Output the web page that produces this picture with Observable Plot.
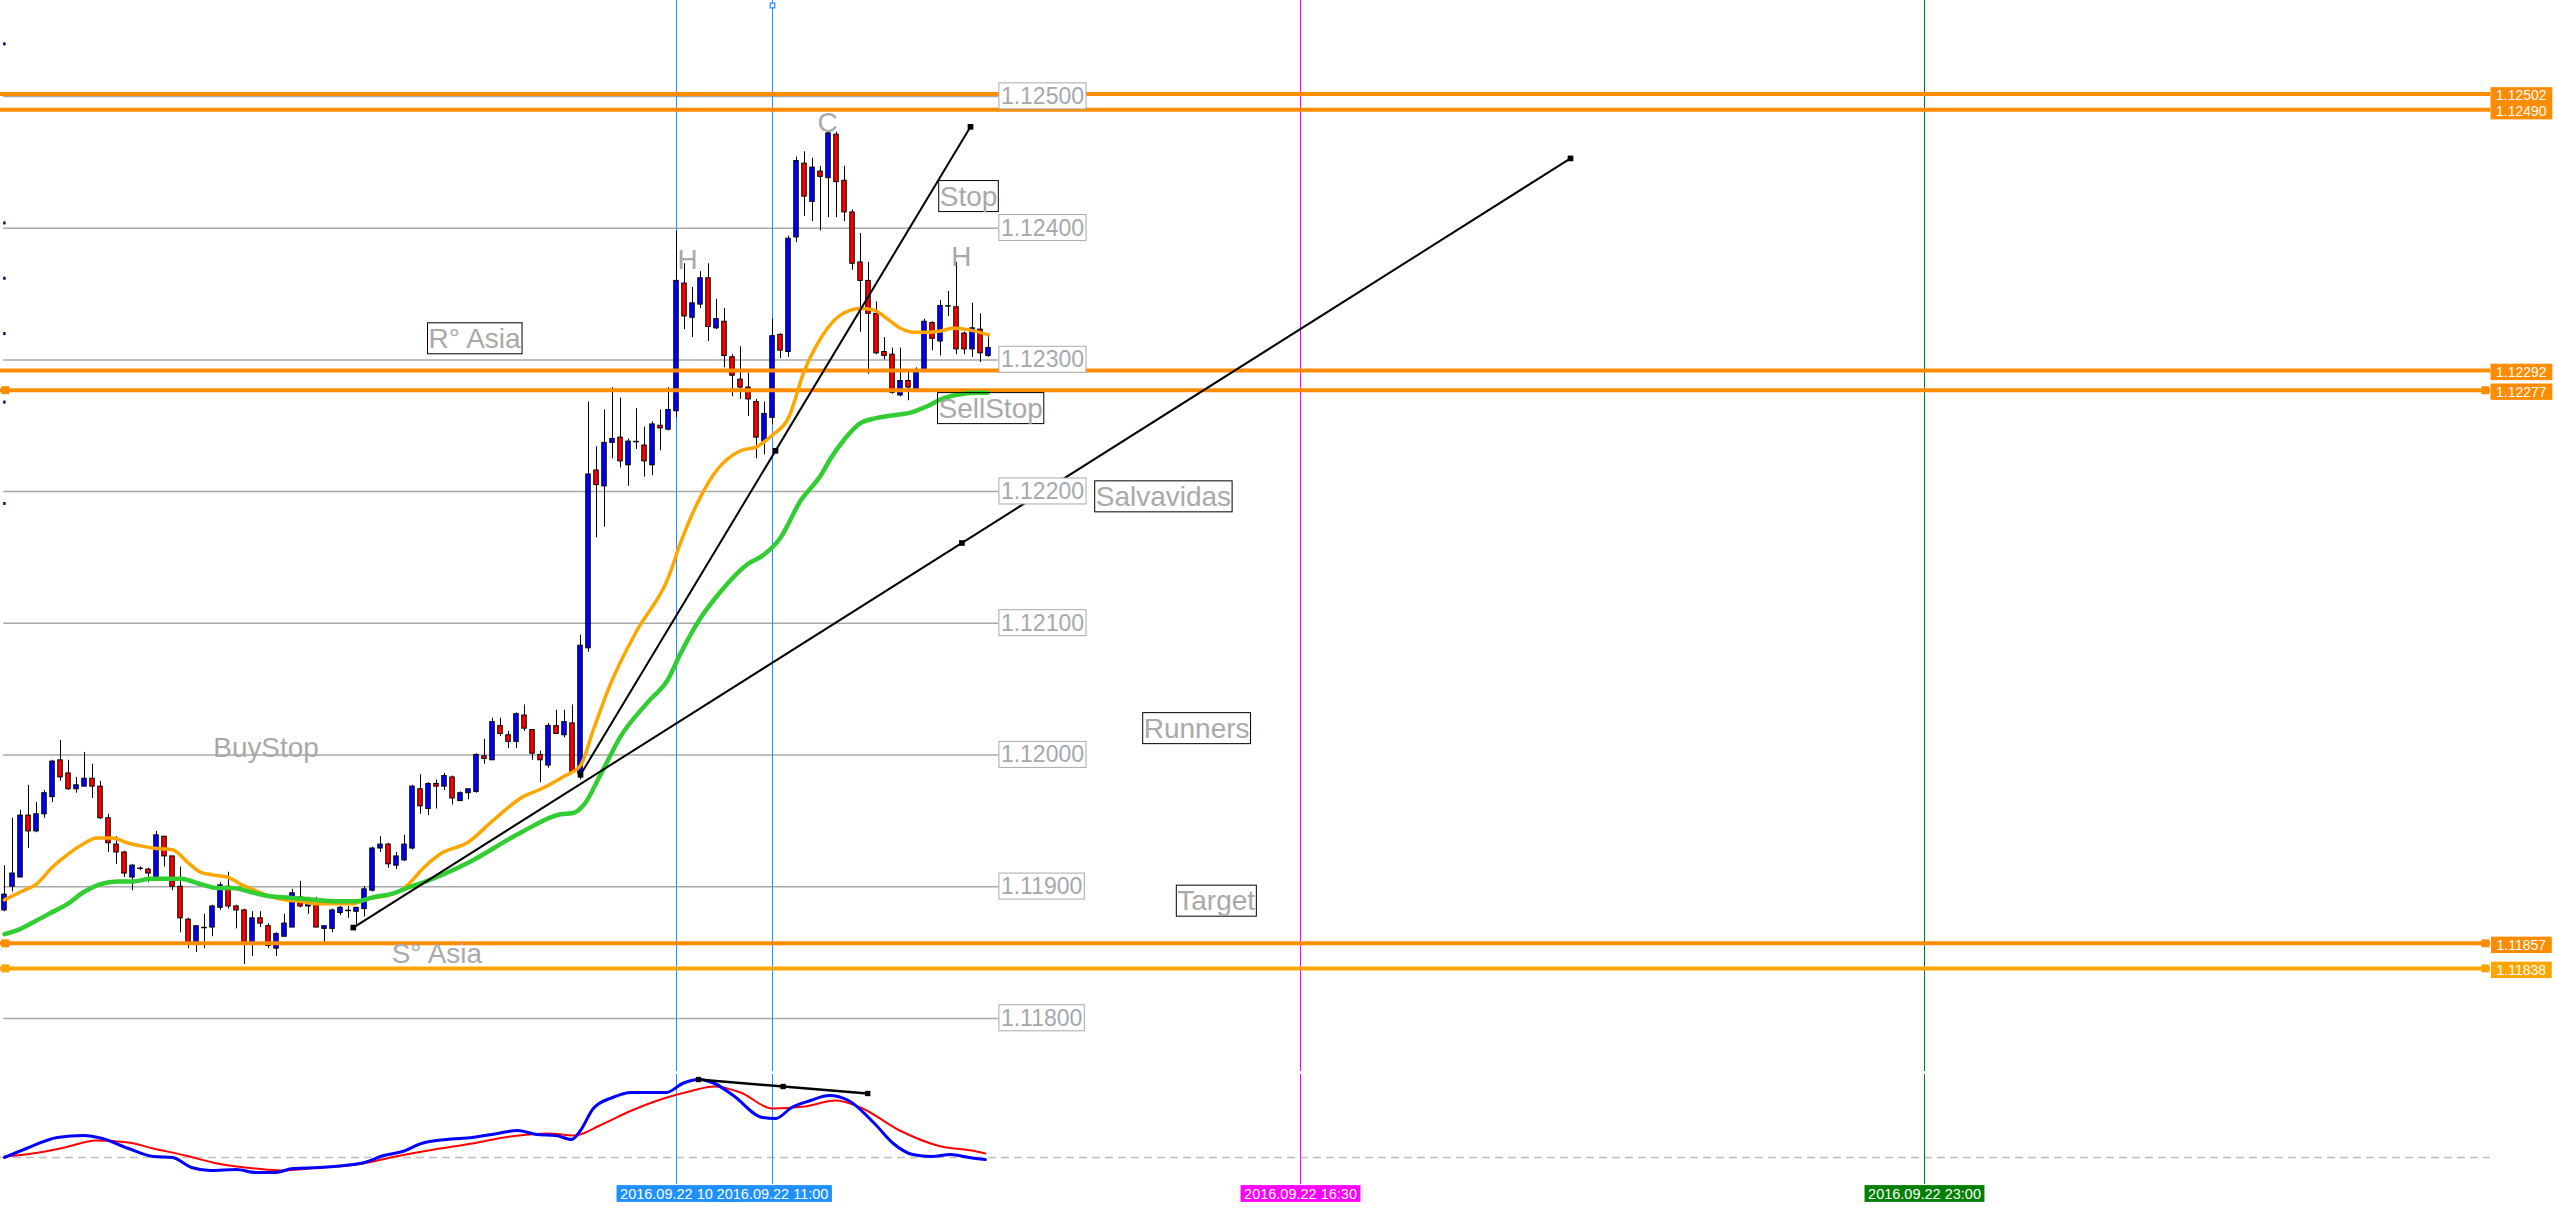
<!DOCTYPE html>
<html><head><meta charset="utf-8">
<script src="https://cdn.jsdelivr.net/npm/d3@7"></script>
<script src="https://cdn.jsdelivr.net/npm/@observablehq/plot@0.6"></script>
<style>
html,body{margin:0;padding:0;background:#fff;overflow:hidden;width:2556px;height:1212px;}
#main{position:absolute;left:0;top:0;}
#sub{position:absolute;left:0;top:1074px;}
</style></head><body>
<div id="main"></div><div id="sub"></div>
<script>
// ---------- DATA (EURUSD M5, 2016.09.22 from 03:00; x = bar index) ----------
const open = [1.11882,1.11900,1.11907,1.11954,1.11942,1.11955,1.11968,1.11996,1.11986,1.11974,
1.11976,1.11982,1.11976,1.11952,1.11932,1.11926,1.11907,1.11914,1.11913,1.11907,
1.11938,1.11923,1.11900,1.11875,1.11857,1.11869,1.11869,1.11884,1.11900,1.11885,
1.11882,1.11857,1.11876,1.11870,1.11853,1.11862,1.11869,1.11892,1.11885,1.11889,
1.11868,1.11868,1.11880,1.11882,1.11881,1.11883,1.11897,1.11929,1.11932,1.11916,
1.11920,1.11929,1.11974,1.11959,1.11978,1.11976,1.11983,1.11965,1.11971,1.11972,
1.11999,1.11996,1.12022,1.12015,1.12010,1.12030,1.12019,1.12000,1.11992,1.12022,
1.12015,1.12024,1.11986,1.12081,1.12216,1.12204,1.12237,1.12241,1.12220,1.12238,
1.12235,1.12220,1.12250,1.12247,1.12261,1.12358,1.12332,1.12342,1.12362,1.12324,
1.12329,1.12302,1.12285,1.12279,1.12268,1.12238,1.12256,1.12319,1.12306,1.12393,
1.12449,1.12420,1.12443,1.12438,1.12471,1.12436,1.12412,1.12374,1.12360,1.12335,
1.12306,1.12304,1.12273,1.12284,1.12277,1.12292,1.12328,1.12314,1.12341,1.12340,
1.12320,1.12308,1.12323,1.12303];
const high = [1.11916,1.11952,1.11958,1.11977,1.11964,1.11973,1.11996,1.12011,1.11996,1.11983,
1.12002,1.11993,1.11980,1.11955,1.11938,1.11927,1.11917,1.11915,1.11914,1.11942,
1.11938,1.11923,1.11915,1.11876,1.11870,1.11879,1.11886,1.11903,1.11911,1.11886,
1.11883,1.11881,1.11881,1.11872,1.11865,1.11879,1.11898,1.11904,1.11892,1.11892,
1.11870,1.11883,1.11885,1.11885,1.11884,1.11900,1.11930,1.11938,1.11933,1.11926,
1.11939,1.11977,1.11985,1.11979,1.11981,1.11986,1.11984,1.11972,1.11974,1.12001,
1.12012,1.12028,1.12028,1.12018,1.12032,1.12038,1.12019,1.12003,1.12024,1.12034,
1.12034,1.12038,1.12091,1.12268,1.12234,1.12262,1.12279,1.12271,1.12240,1.12263,
1.12249,1.12253,1.12262,1.12279,1.12398,1.12373,1.12355,1.12367,1.12373,1.12346,
1.12339,1.12304,1.12310,1.12290,1.12270,1.12268,1.12331,1.12320,1.12394,1.12454,
1.12458,1.12453,1.12447,1.12474,1.12473,1.12447,1.12414,1.12396,1.12374,1.12344,
1.12317,1.12309,1.12309,1.12292,1.12294,1.12331,1.12329,1.12345,1.12352,1.12374,
1.12321,1.12343,1.12335,1.12318];
const low = [1.11881,1.11896,1.11907,1.11929,1.11941,1.11952,1.11964,1.11980,1.11973,1.11971,
1.11976,1.11967,1.11951,1.11926,1.11917,1.11907,1.11897,1.11912,1.11903,1.11907,
1.11915,1.11897,1.11865,1.11853,1.11850,1.11853,1.11862,1.11882,1.11883,1.11868,
1.11841,1.11847,1.11869,1.11853,1.11847,1.11862,1.11869,1.11884,1.11879,1.11869,
1.11858,1.11865,1.11878,1.11876,1.11871,1.11877,1.11896,1.11926,1.11914,1.11913,
1.11919,1.11928,1.11955,1.11954,1.11959,1.11973,1.11962,1.11965,1.11966,1.11971,
1.11993,1.11996,1.12014,1.12005,1.12005,1.12018,1.11996,1.11979,1.11990,1.12016,
1.12013,1.11986,1.11981,1.12078,1.12165,1.12173,1.12225,1.12218,1.12204,1.12232,
1.12211,1.12212,1.12231,1.12246,1.12256,1.12323,1.12317,1.12339,1.12314,1.12323,
1.12294,1.12272,1.12270,1.12257,1.12225,1.12228,1.12251,1.12301,1.12302,1.12389,
1.12409,1.12405,1.12398,1.12408,1.12408,1.12405,1.12368,1.12321,1.12289,1.12304,
1.12300,1.12274,1.12272,1.12269,1.12276,1.12291,1.12307,1.12303,1.12333,1.12304,
1.12304,1.12302,1.12298,1.12302];
const close = [1.11894,1.11910,1.11954,1.11942,1.11955,1.11971,1.11995,1.11983,1.11974,1.11977,
1.11982,1.11976,1.11952,1.11933,1.11926,1.11910,1.11916,1.11914,1.11910,1.11939,
1.11923,1.11900,1.11876,1.11858,1.11870,1.11869,1.11885,1.11901,1.11885,1.11882,
1.11857,1.11876,1.11872,1.11855,1.11864,1.11872,1.11895,1.11885,1.11891,1.11869,
1.11870,1.11882,1.11884,1.11882,1.11884,1.11898,1.11929,1.11932,1.11917,1.11923,
1.11932,1.11976,1.11961,1.11978,1.11976,1.11984,1.11967,1.11971,1.11974,1.12000,
1.11997,1.12025,1.12016,1.12010,1.12031,1.12020,1.12001,1.11996,1.12022,1.12016,
1.12025,1.11987,1.12083,1.12213,1.12205,1.12237,1.12240,1.12223,1.12238,1.12238,
1.12223,1.12251,1.12248,1.12262,1.12360,1.12333,1.12343,1.12362,1.12325,1.12331,
1.12303,1.12288,1.12279,1.12270,1.12241,1.12259,1.12318,1.12307,1.12392,1.12451,
1.12424,1.12446,1.12439,1.12472,1.12435,1.12412,1.12373,1.12360,1.12335,1.12305,
1.12303,1.12275,1.12284,1.12279,1.12292,1.12329,1.12316,1.12341,1.12341,1.12308,
1.12308,1.12324,1.12305,1.12309];

// moving averages (bar index, price)
const orangeIdx = [0,2,4,6,8,10,11.5,13.5,15.5,17,19,21,23,24.5,26,28,29.5,31,33,35,37,39,41,43.5,45.5,47.5,49.5,51,52,54.5,58,61,65,67,70,72,73.6,75.75,79,83,84.5,87,89,92,94,96,98,100,101.5,103,104.5,107,108.6,110.4,112,113.6,115.4,117,118.6,120.4,123];
const orangeVal = [1.11890,1.11896,1.11902,1.11915,1.11925,1.11933,1.11937,1.11937,1.11933,1.11931,1.11929,1.11928,1.11918,1.11911,1.11909,1.11907,1.11902,1.11898,1.11893,1.11890,1.11889,1.11887,1.11887,1.11887,1.11891,1.11893,1.11897,1.11905,1.11912,1.11925,1.11934,1.11950,1.11969,1.11974,1.11984,1.11992,1.12019,1.12054,1.12094,1.12135,1.12161,1.12196,1.12216,1.12231,1.12234,1.12243,1.12256,1.12292,1.12311,1.12325,1.12334,1.12339,1.12338,1.12331,1.12324,1.12321,1.12321,1.12322,1.12324,1.12323,1.12319];
const greenIdx = [0,2,3.6,5.75,7.9,9.9,12,14.1,16.1,18.25,20.4,22,24.5,26.6,28.6,30.75,32.9,34.9,37,39.1,41.1,44.1,46.1,48.6,50.75,52.2,57.9,64.5,69.5,71.1,72.4,74.5,77,80.4,82.9,84.5,87,89.5,92.9,94.9,97,99.5,102,103.25,104.9,107,109.1,111.1,113.25,115.4,117.4,119.5,121.6,122.9];
const greenVal = [1.11864,1.11868,1.11873,1.11880,1.11887,1.11896,1.11902,1.11904,1.11904,1.11906,1.11906,1.11906,1.11902,1.11899,1.11899,1.11896,1.11893,1.11892,1.11891,1.11890,1.11889,1.11889,1.11892,1.11895,1.11900,1.11903,1.11918,1.11941,1.11955,1.11956,1.11962,1.11985,1.12014,1.12040,1.12057,1.12077,1.12104,1.12124,1.12145,1.12152,1.12165,1.12193,1.12212,1.12225,1.12239,1.12252,1.12256,1.12258,1.12260,1.12265,1.12271,1.12274,1.12275,1.12275];

// MACD sub-window
const macdIdx = [0,2.75,6.6,9.9,12.25,15.5,18.6,21,23.4,25.75,29,31.4,33.75,36.1,39.4,42.5,45,47.4,49.75,52.1,55.25,58.5,61.6,64.1,66.5,68.9,70.9,72,73.6,76,78.4,82.75,84.75,86.75,88.75,91.1,94.75,96.4,98.4,100.75,103.1,105.5,108.75,111.1,113.5,115.9,118.25,120.6,122.6];
const macdVal = [0,0.00009,0.00020,0.00022,0.00019,0.00009,0.00001,0,-0.00010,-0.00013,-0.00012,-0.00015,-0.00015,-0.00011,-0.00010,-0.00008,-0.00005,0.00002,0.00006,0.00014,0.00018,0.00020,0.00024,0.00027,0.00023,0.00022,0.00018,0.00027,0.00049,0.00060,0.00065,0.00065,0.00074,0.00078,0.00074,0.00062,0.00040,0.00039,0.00050,0.00057,0.00062,0.00057,0.00034,0.00014,0.00003,0.00001,0.00003,0,-0.00002];
const signalIdx = [0,3.5,7.5,11.5,15.5,18.6,22.6,26.6,31.4,34.6,39.4,44.1,48.9,53.75,58.5,63.25,68,71.25,74.4,78.4,82.4,85.6,88.75,92,96,100,103.9,107,111.9,116.6,121.5,122.6];
const signalVal = [0.00001,0.00004,0.00010,0.00017,0.00015,0.00009,0.00002,-0.00006,-0.00011,-0.00013,-0.00010,-0.00007,0.00001,0.00008,0.00014,0.00021,0.00024,0.00022,0.00032,0.00047,0.00059,0.00066,0.00071,0.00065,0.00049,0.00051,0.00057,0.00050,0.00027,0.00012,0.00006,0.00004];

// price grid and tick labels
const gridLevels = [1.125,1.124,1.123,1.122,1.121,1.120,1.119,1.118];
const gridLabels = ["1.12500","1.12400","1.12300","1.12200","1.12100","1.12000","1.11900","1.11800"];

// horizontal level lines
const levelPrices = [1.12502,1.12490,1.12292,1.12277,1.11857,1.11838];
const levelColors = ["#FF8C00","#FF8C00","#FF8C00","#FF8C00","#FF8C00","#FFA500"];
const levelMarked = [false,false,false,true,true,true];

// small price markers at the left edge
const edgeMarks = [1.12540,1.12404,1.12362,1.12320,1.12268,1.12191];

// vertical time lines (bar index from 03:00)
const vLineIdx = [84,96,162,240];
const vLineColors = ["#1E90FF","#1E90FF","#FF00FF","#008000"];
const vLineLabels = ["2016.09.22 10:00","2016.09.22 11:00","2016.09.22 16:30","2016.09.22 23:00"];

// trend lines (bar index, price)
const trendI1 = [43.6, 72];
const trendP1 = [1.11869, 1.11985];
const trendI2 = [195.75, 120.75];
const trendP2 = [1.12453, 1.12477];
const macdTrendI = [86.75, 107.9];
const macdTrendV = [0.00078, 0.00064];

// text objects
const boxedText = ["R° Asia","Stop","SellStop","Salvavidas","Runners","Target"];
const boxedIdx = [53.0,116.9,116.75,136.4,142.4,146.6];
const boxedPrice = [1.12316,1.12424,1.12263,1.12196,1.12020,1.11889];
const plainText = ["BuyStop","S° Asia","H","C","H"];
const plainIdx = [26.1,48.4,85.4,102.9,119.6];
const plainPrice = [1.12005,1.11849,1.12376,1.12480,1.12378];
const plainAnchor = ["start","start","middle","middle","middle"];

// ---------- BUILD ----------
const FONT = "'Liberation Sans', Arial, Helvetica, sans-serif";
const W = 2556, H1 = 1071, H2 = 138;
const xDomain = [-0.5, 319];
const yDomain = [1.117597, 1.125729];
const gridEnd = 124.25, gridLabelX = 124.55, levelEnd = 310.75, levelLabelX = 314.6;

const candles = open.map((o, i) => ({i, open: o, high: high[i], low: low[i], close: close[i]}));
const bodies = candles.filter(d => d.open !== d.close);
const dojis = candles.filter(d => d.open === d.close);
const levels = levelPrices.map((p, k) => ({price: p, color: levelColors[k], marked: levelMarked[k]}));
const vlines = vLineIdx.map((x, k) => ({i: x, color: vLineColors[k], label: vLineLabels[k]}));
const orange = orangeIdx.map((x, k) => ({i: x, v: orangeVal[k]}));
const green = greenIdx.map((x, k) => ({i: x, v: greenVal[k]}));
const macd = macdIdx.map((x, k) => ({i: x, v: macdVal[k]}));
const signal = signalIdx.map((x, k) => ({i: x, v: signalVal[k]}));
const trend = trendI1.map((x, k) => ({i1: x, p1: trendP1[k], i2: trendI2[k], p2: trendP2[k]}));
const trendPts = trend.flatMap(t => [{i: t.i1, p: t.p1}, {i: (t.i1 + t.i2) / 2, p: (t.p1 + t.p2) / 2}, {i: t.i2, p: t.p2}]);
const mTrend = [{i1: macdTrendI[0], v1: macdTrendV[0], i2: macdTrendI[1], v2: macdTrendV[1]}];
const mTrendPts = [{i: macdTrendI[0], v: macdTrendV[0]}, {i: (macdTrendI[0] + macdTrendI[1]) / 2, v: (macdTrendV[0] + macdTrendV[1]) / 2}, {i: macdTrendI[1], v: macdTrendV[1]}];
const boxed = boxedText.map((t, k) => ({t, i: boxedIdx[k], p: boxedPrice[k]}));
const plainAll = plainText.map((t, k) => ({t, i: plainIdx[k], p: plainPrice[k], a: plainAnchor[k]}));
const plainStart = plainAll.filter(d => d.a === "start");
const plainMid = plainAll.filter(d => d.a === "middle");

const GRAY = "#A9A9A9";

const mainPlot = Plot.plot({
  width: W, height: H1,
  marginTop: 0, marginBottom: 0, marginLeft: 0, marginRight: 0,
  x: {domain: xDomain, axis: null},
  y: {domain: yDomain, axis: null},
  color: {type: "identity"},
  style: {background: "white", overflow: "visible"},
  marks: [
    Plot.ruleY(gridLevels, {y: d => d, x1: -0.1, x2: gridEnd, stroke: "#A8A8A8", strokeWidth: 1.5}),
    Plot.ruleX(vlines, {x: "i", stroke: "color", strokeWidth: 1}),
    Plot.dot(vlines.filter(d => d.i === 96), {x: "i", frameAnchor: "top", dy: 5, symbol: "square", r: 2.6, fill: "white", stroke: "color", strokeWidth: 1.2}),
    Plot.ruleX(candles, {x: "i", y1: "low", y2: "high", stroke: "black", strokeWidth: 1}),
    Plot.rect(bodies, {x1: d => d.i - 0.28, x2: d => d.i + 0.28, y1: "open", y2: "close",
      fill: d => d.close > d.open ? "#0000FF" : "#FF0000", stroke: "black", strokeWidth: 1}),
    Plot.ruleY(dojis, {y: "open", x1: d => d.i - 0.35, x2: d => d.i + 0.35, stroke: "black", strokeWidth: 1.5}),
    Plot.ruleY(levels, {y: "price", x1: -0.5, x2: levelEnd, stroke: "color", strokeWidth: 4}),
    Plot.dot(levels.filter(d => d.marked), {x: 0.1, y: "price", symbol: "square", r: 4.5, fill: "color", stroke: null}),
    Plot.dot(levels.filter(d => d.marked), {x: 310.1, y: "price", symbol: "square", r: 4.5, fill: "color", stroke: null}),
    Plot.text(levels, {x: levelLabelX, y: "price", dy: 2, text: d => d.price.toFixed(5), fill: "white", fontSize: 14, fontFamily: FONT}),
    Plot.ruleY(edgeMarks, {y: d => d, x1: -0.1, x2: 0.2, stroke: "#000080", strokeWidth: 3}),
    Plot.line(orange, {x: "i", y: "v", stroke: "#FFA500", strokeWidth: 3.5, curve: "monotone-x"}),
    Plot.line(green, {x: "i", y: "v", stroke: "#32CD32", strokeWidth: 4.5, curve: "monotone-x"}),
    Plot.link(trend, {x1: "i1", y1: "p1", x2: "i2", y2: "p2", stroke: "black", strokeWidth: 2}),
    Plot.dot(trendPts, {x: "i", y: "p", symbol: "square", r: 3.2, fill: "black", stroke: null}),
    Plot.text(gridLevels, {x: gridLabelX, y: d => d, text: (d, k) => gridLabels[k], textAnchor: "start", fontSize: 23, fontFamily: FONT, fill: "#A4A8AE"}),
    Plot.text(boxed, {x: "i", y: "p", text: "t", textAnchor: "start", fontSize: 28, fontFamily: FONT, fill: GRAY}),
    Plot.text(plainStart, {x: "i", y: "p", text: "t", textAnchor: "start", fontSize: 27.9, fontFamily: FONT, fill: GRAY}),
    Plot.text(plainMid, {x: "i", y: "p", text: "t", textAnchor: "middle", fontSize: 27.9, fontFamily: FONT, fill: GRAY})
  ]
});

const subPlot = Plot.plot({
  width: W, height: H2,
  marginTop: 0, marginBottom: 0, marginLeft: 0, marginRight: 0,
  x: {domain: xDomain, axis: null},
  y: {domain: [-0.00055, 0.00083], axis: null},
  color: {type: "identity"},
  style: {background: "white", overflow: "visible"},
  marks: [
    Plot.ruleY([0], {x1: -0.5, x2: levelEnd, stroke: "#C0C0C0", strokeWidth: 1.5, strokeDasharray: "8,5"}),
    Plot.ruleX(vlines, {x: "i", stroke: "color", strokeWidth: 1, insetBottom: 28}),
    Plot.line(signal, {x: "i", y: "v", stroke: "#FF0000", strokeWidth: 2, curve: "monotone-x"}),
    Plot.line(macd, {x: "i", y: "v", stroke: "#0000FF", strokeWidth: 3, curve: "monotone-x"}),
    Plot.link(mTrend, {x1: "i1", y1: "v1", x2: "i2", y2: "v2", stroke: "black", strokeWidth: 2.5}),
    Plot.dot(mTrendPts, {x: "i", y: "v", symbol: "square", r: 3, fill: "black", stroke: null}),
    Plot.text(vlines, {x: "i", text: "label", frameAnchor: "bottom", dy: -14, fill: "white", fontSize: 14.5, fontFamily: FONT})
  ]
});

document.getElementById("main").appendChild(mainPlot);
document.getElementById("sub").appendChild(subPlot);

// boxes behind labels, sized from the rendered text
function groupsWithFont(svg, size) {
  return Array.from(svg.querySelectorAll("g")).filter(g => {
    const fs = g.getAttribute("font-size") || g.style.fontSize;
    return fs && Math.abs(parseFloat(fs) - size) < 1e-6;
  });
}
function boxLabels(svg, size, opt) {
  groupsWithFont(svg, size).forEach(g => {
    Array.from(g.querySelectorAll("text")).forEach((t, k) => {
      const b = t.getBBox();
      const o = typeof opt === "function" ? opt(k) : opt;
      const r = document.createElementNS("http://www.w3.org/2000/svg", "rect");
      r.setAttribute("x", b.x - o.padX);
      r.setAttribute("y", b.y - o.padY);
      r.setAttribute("width", b.width + 2 * o.padX);
      r.setAttribute("height", b.height + 2 * o.padY);
      r.setAttribute("fill", o.fill);
      r.setAttribute("stroke", o.stroke);
      r.setAttribute("stroke-width", o.sw);
      const tr = t.getAttribute("transform");
      if (tr) r.setAttribute("transform", tr);
      t.parentNode.insertBefore(r, t);
    });
  });
}
boxLabels(mainPlot, 23, {padX: 2, padY: 0, fill: "white", stroke: "#A8A8A8", sw: 1});
boxLabels(mainPlot, 14, k => ({padX: 5.5, padY: 0.2, fill: levels[k].color, stroke: "none", sw: 0}));
boxLabels(mainPlot, 28, {padX: 1, padY: 0, fill: "none", stroke: "#000", sw: 1});
boxLabels(subPlot, 14.5, k => ({padX: 3.5, padY: 0.4, fill: vlines[k].color, stroke: "none", sw: 0}));
</script>
</body></html>
